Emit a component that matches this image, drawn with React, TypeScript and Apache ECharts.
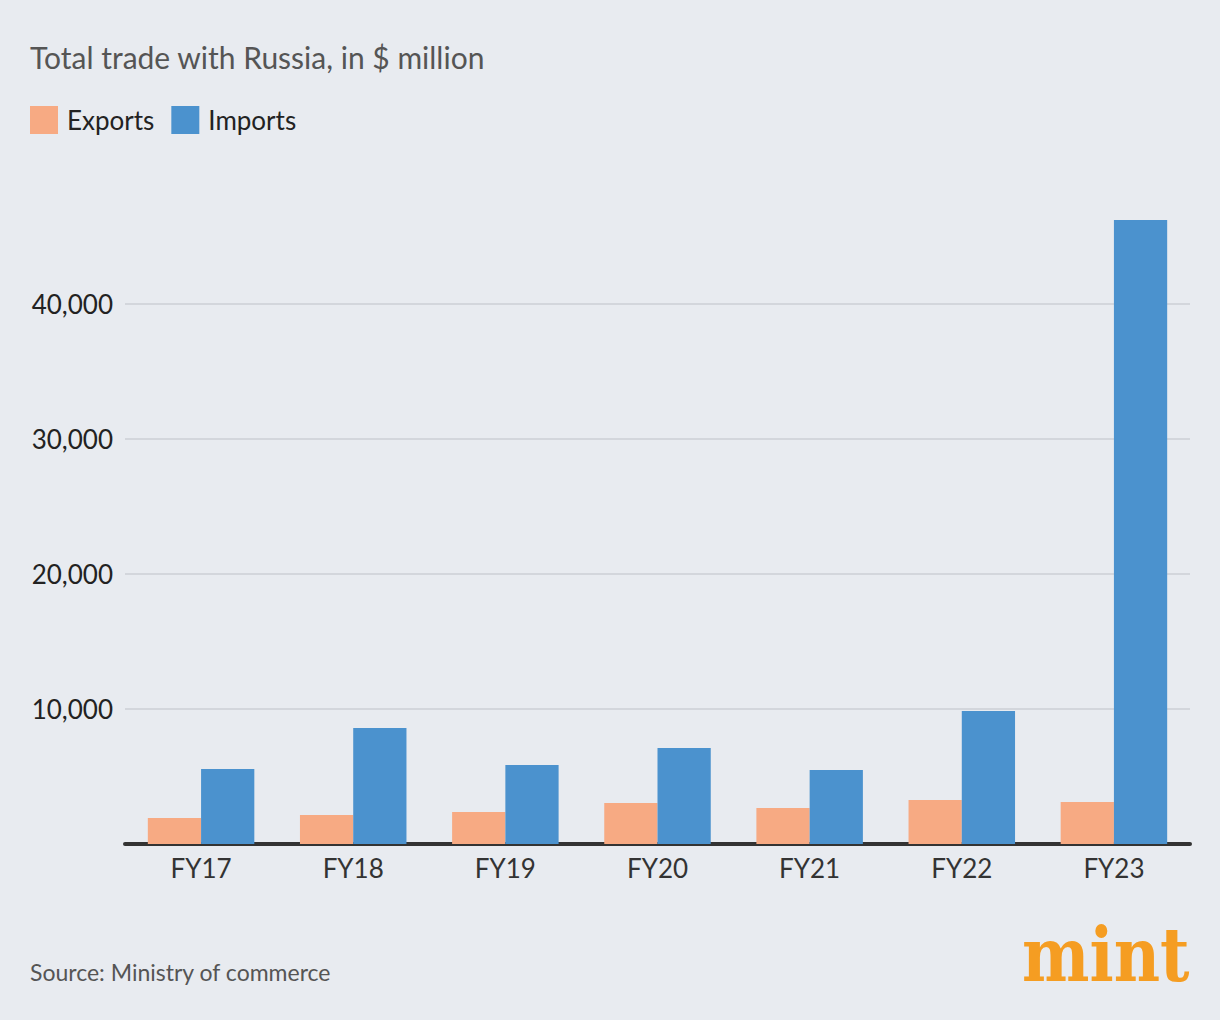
import * as echarts from "echarts";
import { useEffect, useRef } from "react";

const categories = ["FY17", "FY18", "FY19", "FY20", "FY21", "FY22", "FY23"];
const exportsValues = [1930, 2150, 2370, 3040, 2670, 3260, 3110];
const importsValues = [5560, 8590, 5850, 7110, 5480, 9850, 46220];
const yTicks = [10000, 20000, 30000, 40000];

const FONT = "Lato, 'Open Sans', sans-serif";

export default function App() {
  const box = useRef<HTMLDivElement>(null);

  useEffect(() => {
    if (!box.current) return;
    document.body.style.margin = "0";
    const c = echarts.init(box.current, undefined, { renderer: "svg" });
    c.setOption({
      animation: false,
      backgroundColor: "#e8ebf0",
      textStyle: { fontFamily: FONT },
      legend: {
        left: 30,
        top: 106,
        padding: 0,
        itemWidth: 28,
        itemHeight: 28,
        itemGap: 17,
        icon: "rect",
        textStyle: { fontSize: 26, color: "#222", padding: [0, 0, 0, 4], fontFamily: FONT },
        data: ["Exports", "Imports"],
      },
      grid: { left: 125, right: 30, top: 169, bottom: 176, containLabel: false },
      xAxis: {
        type: "category",
        data: categories,
        axisTick: { show: false },
        axisLine: { lineStyle: { color: "#333", width: 4 } },
        axisLabel: { fontSize: 26, color: "#333", margin: 11, fontFamily: FONT },
      },
      yAxis: {
        type: "value",
        min: 0,
        max: 50000,
        interval: 10000,
        axisLine: { show: false },
        axisTick: { show: false },
        axisLabel: {
          showMinLabel: false,
          showMaxLabel: false,
          fontSize: 26,
          color: "#222",
          margin: 12,
          fontFamily: FONT,
          formatter: (v: number) => (yTicks.includes(v) ? v.toLocaleString("en-US") : ""),
        },
        splitLine: { showMinLine: false, showMaxLine: false, lineStyle: { color: "#d3d6dc", width: 2 } },
      },
      series: [
        {
          name: "Exports",
          type: "bar",
          data: exportsValues,
          barGap: "0%",
          barCategoryGap: "30%",
          itemStyle: { color: "#f7aa83" },
        },
        {
          name: "Imports",
          type: "bar",
          data: importsValues,
          barGap: "0%",
          barCategoryGap: "30%",
          itemStyle: { color: "#4b92ce" },
        },
      ],
      graphic: [
        {
          type: "text",
          left: 30,
          top: 42,
          style: { text: "Total trade with Russia, in $ million", fontSize: 30, fill: "#555", fontFamily: FONT },
        },
        {
          type: "text",
          left: 30,
          top: 960,
          style: { text: "Source: Ministry of commerce", fontSize: 23, fill: "#555", fontFamily: FONT },
        },
        {
          type: "text",
          x: 1022,
          y: 955,
          scaleX: 0.85,
          style: {
            text: "mint",
            fontSize: 75,
            fontWeight: "bold",
            fill: "#f59d22",
            fontFamily: "'DejaVu Serif', serif",
            verticalAlign: "middle",
          },
        },
      ],
    });
    return () => c.dispose();
  }, []);

  return <div ref={box} style={{ position: "absolute", left: 0, top: 0, width: 1220, height: 1020 }} />;
}
